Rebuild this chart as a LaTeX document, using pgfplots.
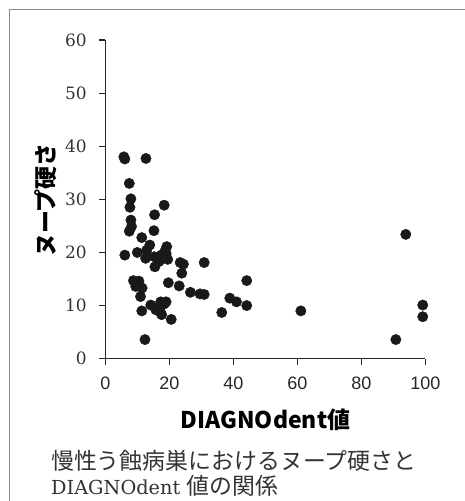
\documentclass[border=0pt]{standalone}
\usepackage{fontspec}
\usepackage{pgfplots}
\pgfplotsset{compat=1.18}
\newfontfamily\cjk{Noto Sans CJK JP}
\newfontfamily\libsans{Liberation Sans}
\newfontfamily\dvserif{DejaVu Serif}
\begin{document}
\begin{tikzpicture}[x=1pt,y=1pt]
\useasboundingbox (0,0) rectangle (465,501);
\draw[black!45, line width=1pt] (9.5,-5) -- (9.5,491) -- (470,491);
\begin{axis}[
  at={(105.3pt,142.3pt)}, anchor=south west,
  scale only axis, width=320pt, height=318.7pt,
  xmin=0, xmax=100, ymin=0, ymax=60,
  axis lines=left, axis line style={-, draw=black!85, line width=1.2pt},
  tick align=outside, major tick length=6pt,
  tick style={black!85, line width=1.2pt},
  xtick={0,20,40,60,80,100}, ytick={0,10,20,30,40,50,60},
  xticklabels={0,20,40,60,80,100},
  yticklabels={0,10,20,30,40,50,60},
  xticklabel style={font=\libsans\fontsize{18}{18}\selectfont, text=black!85, yshift=-9pt},
  yticklabel style={font=\dvserif\fontsize{17}{17}\selectfont, text=black!80, xshift=-9pt},
  clip=false,
]
\addplot[only marks, mark=*, mark size=5.2pt, mark options={fill=black!90, draw=black!90}] coordinates {
(5.8,38.0) (6.1,37.6) (12.7,37.7) (7.5,33.0) (8.0,30.1) (7.7,28.5) (18.4,28.9)
(15.4,27.1) (8.0,26.1) (8.2,24.9) (7.5,24.0) (15.2,24.1) (11.4,22.8) (6.1,19.5)
(10.0,20.0) (13.9,21.4) (12.9,20.4) (12.6,18.9) (15.3,19.2) (15.5,17.3) (17.0,18.6)
(19.2,21.1) (18.6,20.2) (18.1,19.3) (19.5,18.7) (16.8,18.3) (18.0,19.0) (19.0,19.8)
(17.5,19.5) (23.4,18.1) (24.4,17.8) (30.9,18.1) (23.9,16.1) (19.7,14.3) (23.1,13.7)
(26.6,12.5) (29.6,12.2) (30.9,12.1) (8.8,14.7) (10.5,14.6) (9.5,13.6) (11.5,13.3)
(11.0,11.7) (11.4,9.0) (14.2,10.1) (15.8,9.2) (17.3,10.7) (19.0,10.7) (17.6,8.3)
(16.5,9.6) (17.2,8.8) (18.4,10.3) (20.6,7.4) (12.4,3.6) (36.4,8.7) (38.9,11.4)
(41.0,10.7) (44.2,14.7) (44.2,10.0) (61.1,9.0) (90.8,3.6) (93.9,23.4) (99.2,10.1)
(99.2,7.9)
};
\end{axis}
\node[rotate=90] at (46,301) {\cjk\bfseries\fontsize{23}{23}\selectfont ヌープ硬さ};
\node at (265.5,81) {\cjk\bfseries\fontsize{23}{23}\selectfont DIAGNOdent値};
\node[anchor=base west, inner sep=0, text=black!80] at (51,31) {\cjk\fontsize{22.9}{22.9}\selectfont 慢性う蝕病巣におけるヌープ硬さと};
\node[anchor=base west, inner sep=0, text=black!80] at (51,6) {\dvserif\fontsize{19.3}{19.3}\selectfont DIAGNOdent \cjk\fontsize{22.9}{22.9}\selectfont 値の関係};
\end{tikzpicture}
\end{document}
